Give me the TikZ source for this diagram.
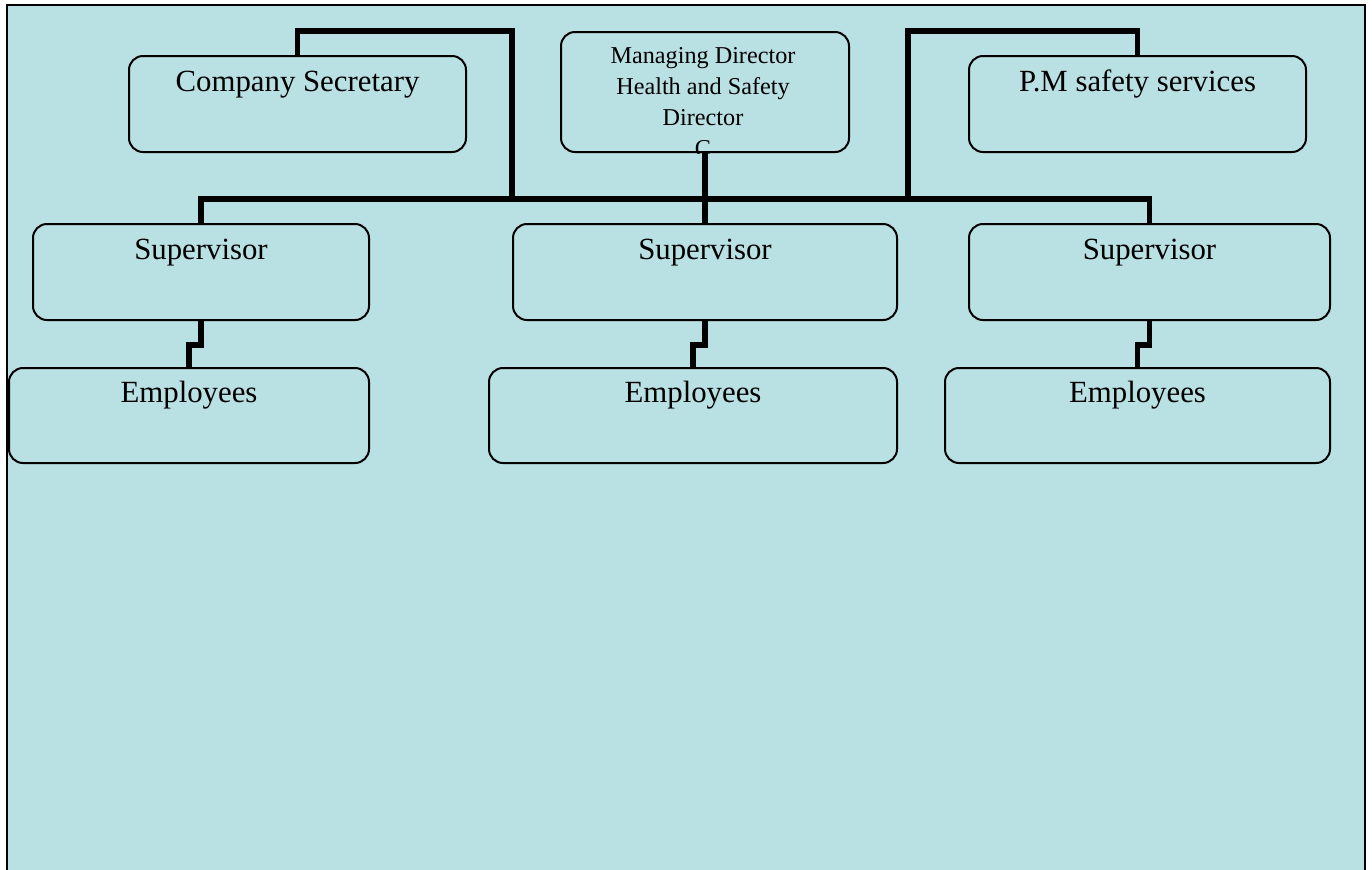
\documentclass[tikz,border=0pt]{standalone}
\usepackage{fontspec}
\setmainfont{Liberation Serif}
\definecolor{bgblue}{RGB}{185,224,227}

\begin{document}
\begin{tikzpicture}[x=0.5pt,y=-0.5pt,
 box/.style={draw,line width=1pt,rounded corners=7pt,fill=bgblue,anchor=north west,inner sep=0pt},
 lbl/.style={anchor=base,inner sep=0pt,font=\fontsize{15.4}{18.5}\selectfont},
 conn/.style={line width=2.9pt}]
\useasboundingbox (0,0) rectangle (1372,869);
\clip (0,0) rectangle (1372,869);
\fill[white] (0,0) rectangle (1372,869);
\draw[line width=1pt,fill=bgblue] (7,880) -- (7,5) -- (1365,5) -- (1365,880) -- cycle;

\node[box,minimum width=168.5pt,minimum height=48pt] (cs) at (128,55) {};
\node[box,minimum width=144pt,minimum height=60pt] (md) at (560,31) {};
\node[box,minimum width=168.5pt,minimum height=48pt] (pm) at (968,55) {};
\node[box,minimum width=168pt,minimum height=48pt] (sup1) at (32,223) {};
\node[box,minimum width=192pt,minimum height=48pt] (sup2) at (512,223) {};
\node[box,minimum width=180.5pt,minimum height=48pt] (sup3) at (968,223) {};
\node[box,minimum width=180pt,minimum height=47.5pt] (emp1) at (8,367) {};
\node[box,minimum width=204pt,minimum height=47.5pt] (emp2) at (488,367) {};
\node[box,minimum width=192.5pt,minimum height=47.5pt] (emp3) at (944,367) {};

\node[lbl] (cstext) at ([yshift=-18pt]cs.north) {Company Secretary};
\node[lbl] (pmtext) at ([yshift=-18pt]pm.north) {P.M safety services};
\node[lbl] (sup1text) at ([yshift=-18pt]sup1.north) {Supervisor};
\node[lbl] (sup2text) at ([yshift=-18pt]sup2.north) {Supervisor};
\node[lbl] (sup3text) at ([yshift=-18pt]sup3.north) {Supervisor};
\node[lbl] (emp1text) at ([yshift=-17.5pt]emp1.north) {Employees};
\node[lbl] (emp2text) at ([yshift=-17.5pt]emp2.north) {Employees};
\node[lbl] (emp3text) at ([yshift=-17.5pt]emp3.north) {Employees};
\begin{scope}
\clip[rounded corners=7pt] (md.south west) rectangle (md.north east);
\node[anchor=north,align=center,inner sep=0pt,font=\fontsize{12.1}{15.5}\selectfont] (mdtext)
 at ([xshift=-1pt,yshift=-7.8pt]md.north) {Managing Director\\Health and Safety\\Director\\C};
\end{scope}

\coordinate (csjoin) at (512,199);
\coordinate (pmjoin) at (908,199);
\draw[conn] (sup1.north) -- ++(0,-24) -| (sup3.north);
\draw[conn] (md.south) -- (sup2.north);
\draw[conn] (cs.north) -- ++(0,-24) -| (csjoin);
\draw[conn] (pm.north) -- ++(0,-24) -| (pmjoin);
\draw[conn] (sup1.south) -- ++(0,24) -| (emp1.north);
\draw[conn] (sup2.south) -- ++(0,24) -| (emp2.north);
\draw[conn] (sup3.south) -- ++(0,24) -| (emp3.north);
\end{tikzpicture}
\end{document}
